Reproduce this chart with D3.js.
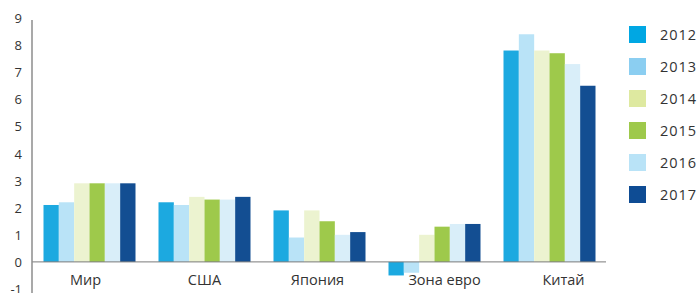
<!DOCTYPE html>
<html>
<head>
<meta charset="utf-8">
<script src="https://cdn.jsdelivr.net/npm/d3@7"></script>
<style>
  body { margin: 0; background: #fff; }
  svg { display: block; font-family: 'Open Sans', sans-serif; }
</style>
</head>
<body>
<svg id="chart" width="700" height="293"></svg>
<script>
const categories = ['Мир', 'США', 'Япония', 'Зона евро', 'Китай']
const years = ['2012', '2013', '2014', '2015', '2016', '2017']
const values2012 = [2.1, 2.2, 1.9, -0.5, 7.8]
const values2013 = [2.2, 2.1, 0.9, -0.4, 8.4]
const values2014 = [2.9, 2.4, 1.9, 1.0, 7.8]
const values2015 = [2.9, 2.3, 1.5, 1.3, 7.7]
const values2016 = [2.9, 2.3, 1.0, 1.4, 7.3]
const values2017 = [2.9, 2.4, 1.1, 1.4, 6.5]
const yTicks = [-1, 0, 1, 2, 3, 4, 5, 6, 7, 8, 9]

const barColors = ['#1ca9e0', '#b9e3f7', '#ecf3d0', '#9ec94b', '#d9eef9', '#134e92']
const legendColors = ['#00a7e3', '#8bcef1', '#dee9a0', '#9ec94b', '#b9e3f7', '#0e4c94']
// the source nudges some category labels off the group centre
const labelShift = [-4, 0, -2, 10, 14]

const series = [values2012, values2013, values2014, values2015, values2016, values2017]
const rows = []
series.forEach((vals, s) => {
  vals.forEach((v, c) => rows.push({ year: years[s], cat: categories[c], value: v }))
})

const svg = d3.select('#chart')
const axisX = 32

const xScale = d3.scaleBand()
  .domain(categories)
  .range([axisX, 607])
  .paddingInner(0.2)
  .paddingOuter(0.1)

const xInner = d3.scaleBand()
  .domain(years)
  .range([0, xScale.bandwidth()])

const yScale = d3.scaleLinear()
  .domain([-1, 9])
  .range([289, 18])

// bars
svg.append('g')
  .selectAll('rect')
  .data(rows)
  .join('rect')
  .attr('x', d => xScale(d.cat) + xInner(d.year))
  .attr('width', xInner.bandwidth())
  .attr('y', d => yScale(Math.max(0, d.value)))
  .attr('height', d => Math.abs(yScale(d.value) - yScale(0)))
  .attr('fill', d => barColors[years.indexOf(d.year)])

// zero line
svg.append('line')
  .attr('x1', axisX)
  .attr('x2', 606)
  .attr('y1', yScale(0))
  .attr('y2', yScale(0))
  .style('stroke', '#7a7a7a')
  .style('stroke-width', 1)

// y axis
const yAxis = d3.axisLeft(yScale)
  .tickValues(yTicks)
  .tickSize(0)
  .tickPadding(10)
  .tickFormat(d => d)

function customYAxis (g) {
  g.call(yAxis)
  g.select('.domain').remove()
  g.selectAll('.tick text')
    .attr('dy', '0.35em')
    .style('font-size', '13px')
    .style('font-family', 'Open Sans, sans-serif')
    .style('fill', '#333')
}

svg.append('g')
  .attr('transform', `translate(${axisX},0)`)
  .call(customYAxis)

svg.append('line')
  .attr('x1', axisX)
  .attr('x2', axisX)
  .attr('y1', 20)
  .attr('y2', 293)
  .style('stroke', '#8c8c8c')
  .style('stroke-width', 1.5)

// category labels
svg.append('g')
  .selectAll('text')
  .data(categories)
  .join('text')
  .attr('x', (d, i) => xScale(d) + xScale.bandwidth() / 2 + labelShift[i])
  .attr('y', 280)
  .attr('dy', '0.35em')
  .attr('text-anchor', 'middle')
  .style('font-size', '14.5px')
  .style('fill', '#333')
  .text(d => d)

// legend
const legend = svg.append('g')
  .selectAll('g')
  .data(years)
  .join('g')
  .attr('transform', (d, i) => `translate(629,${26 + i * 32})`)

legend.append('rect')
  .attr('width', 17)
  .attr('height', 17)
  .attr('fill', (d, i) => legendColors[i])

legend.append('text')
  .attr('x', 31)
  .attr('y', 8.5)
  .attr('dy', '0.35em')
  .style('font-size', '14.5px')
  .style('letter-spacing', '1px')
  .style('fill', '#333')
  .text(d => d)
</script>
</body>
</html>
